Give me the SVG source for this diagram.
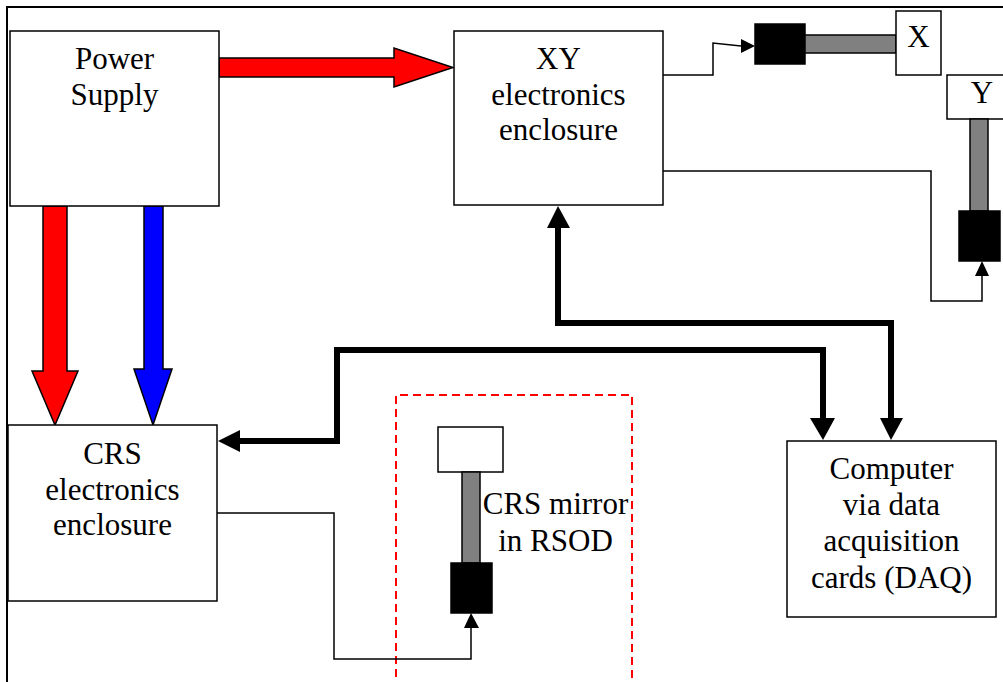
<svg xmlns="http://www.w3.org/2000/svg" width="1003" height="682" viewBox="0 0 1003 682">
<defs>
<style>
.box{fill:#fff;stroke:#000;stroke-width:1.5}
.lbl{font-family:"Liberation Serif","Times New Roman",serif;font-size:31px;fill:#000;text-anchor:middle}
.thin{fill:none;stroke:#000;stroke-width:1.5}
.bus{fill:none;stroke:#000;stroke-width:6;stroke-linejoin:miter}
.head{fill:#000;stroke:none}
.pwr{stroke:#000;stroke-width:1.5;stroke-linejoin:miter}
.grey{fill:#808080;stroke:#000;stroke-width:1.5}
.blk{fill:#000;stroke:#000;stroke-width:1.5}
</style>
</defs>
<rect width="1003" height="682" fill="#fff"/>
<g id="frame" fill="none" stroke="#000" stroke-width="2">
<path d="M7 690 V7 H1010"/>
</g>
<g id="rsod-region">
<path d="M396 690 V395 H632 V690" fill="none" stroke="#f00" stroke-width="2" stroke-dasharray="8 5"/>
</g>
<g id="connectors">
<polygon class="pwr" fill="#f00" points="219,58 394,58 394,48 453,67.5 394,87 394,77 219,77"/>
<polygon class="pwr" fill="#f00" points="43,206 67,206 67,371 78,371 55,425 32,371 43,371"/>
<polygon class="pwr" fill="#00f" points="144,206 163,206 163,369 172,369 153,425 134,369 144,369"/>
<path class="bus" d="M823 418 V350 H337 V441 H240"/>
<polygon class="head" points="240,430 218,441 240,452"/>
<polygon class="head" points="810,418 835,418 823,440"/>
<path class="bus" d="M558 228 V323 H891 V418"/>
<polygon class="head" points="547,228 570,228 558,206"/>
<polygon class="head" points="880,418 903,418 891,440"/>
<path class="thin" d="M663 75 H713 V43 L741 46"/>
<polygon class="head" points="741,39 755,46 741,53"/>
<path class="thin" d="M663 171 H931 V301 H982 V275"/>
<polygon class="head" points="975,276 982,261 989,276"/>
<path class="thin" d="M217 513 H334 V659 H471 V627"/>
<polygon class="head" points="464,628 471,613 479,628"/>
</g>
<g id="power-supply">
<rect class="box" x="10" y="31" width="209" height="175"/>
<text class="lbl" x="114.5" y="69">Power</text>
<text class="lbl" x="114.5" y="105">Supply</text>
</g>
<g id="xy-enclosure">
<rect class="box" x="454" y="31" width="209" height="174"/>
<text class="lbl" x="558.5" y="69">XY</text>
<text class="lbl" x="558.5" y="104.5">electronics</text>
<text class="lbl" x="558.5" y="140">enclosure</text>
</g>
<g id="crs-enclosure">
<rect class="box" x="8" y="425" width="209" height="176"/>
<text class="lbl" x="112.5" y="464">CRS</text>
<text class="lbl" x="112.5" y="500">electronics</text>
<text class="lbl" x="112.5" y="535">enclosure</text>
</g>
<g id="computer">
<rect class="box" x="787" y="441" width="209" height="176"/>
<text class="lbl" x="891.5" y="479">Computer</text>
<text class="lbl" x="891.5" y="515">via data</text>
<text class="lbl" x="891.5" y="551">acquisition</text>
<text class="lbl" x="891.5" y="588">cards (DAQ)</text>
</g>
<g id="x-scanner">
<rect class="blk" x="755" y="24" width="50" height="40"/>
<rect class="grey" x="805" y="35" width="91" height="18"/>
<rect class="box" x="896" y="11" width="45" height="64"/>
<text class="lbl" x="918.5" y="47">X</text>
</g>
<g id="y-scanner">
<rect class="box" x="947" y="75" width="70" height="44"/>
<rect class="grey" x="970" y="119" width="18" height="92"/>
<rect class="blk" x="959" y="211" width="41" height="50"/>
<text class="lbl" x="982" y="103">Y</text>
</g>
<g id="crs-mirror">
<rect class="box" x="438" y="427" width="65" height="45"/>
<rect class="grey" x="462" y="472" width="18" height="91"/>
<rect class="blk" x="451" y="563" width="41" height="50"/>
<text class="lbl" x="555.5" y="514">CRS mirror</text>
<text class="lbl" x="555.5" y="551">in RSOD</text>
</g>
</svg>
